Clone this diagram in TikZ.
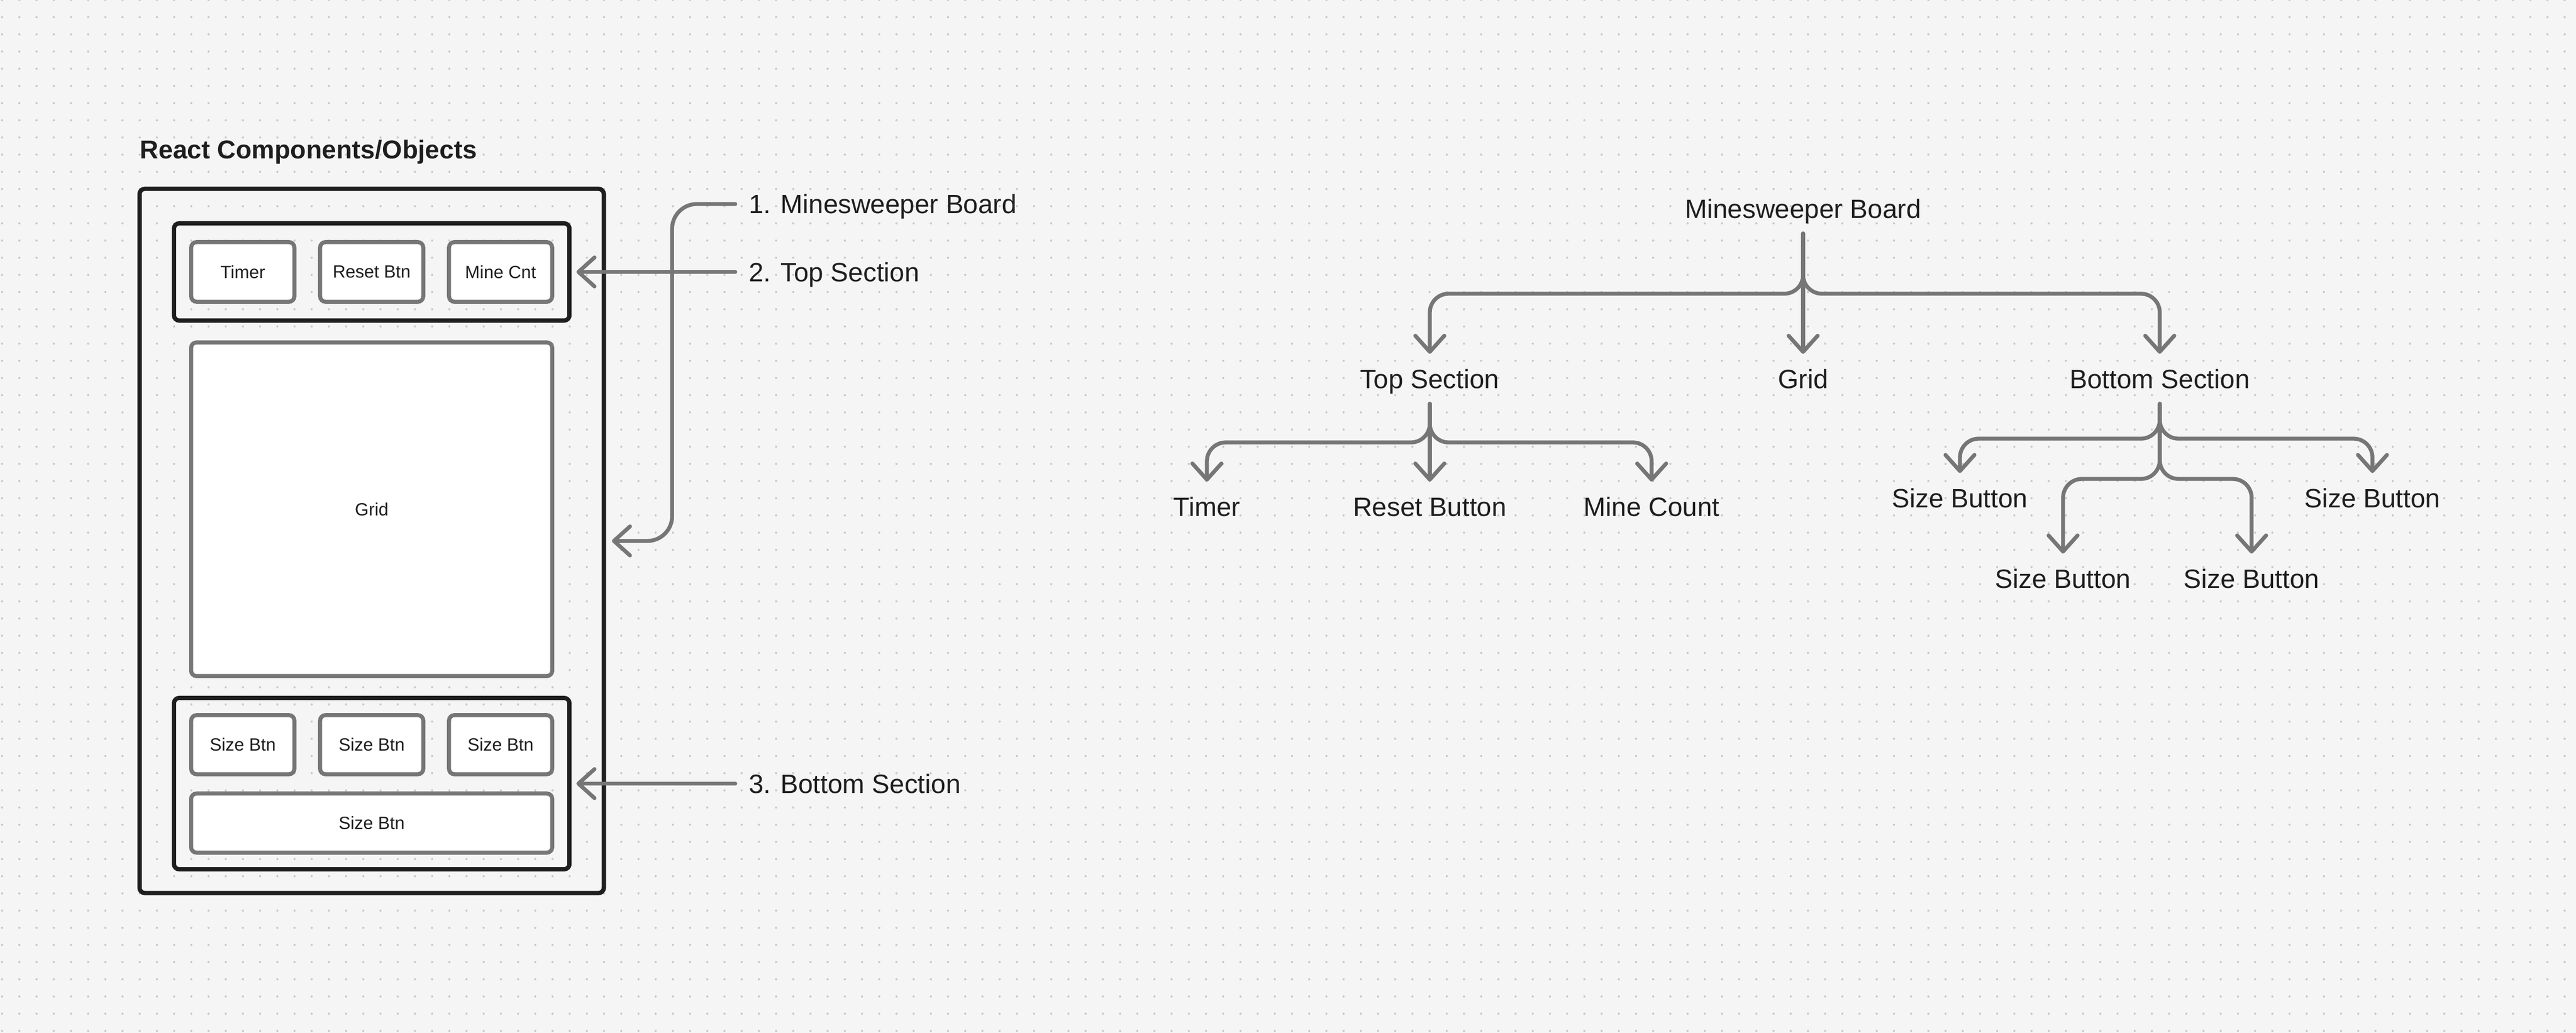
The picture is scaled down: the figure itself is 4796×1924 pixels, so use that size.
\documentclass[tikz,border=0pt]{standalone}
\usepackage{fontspec}
\setmainfont{Liberation Sans}
\usetikzlibrary{arrows.meta}
\definecolor{bg}{HTML}{F5F5F5}
\definecolor{dotc}{HTML}{C8C8C8}
\definecolor{ink}{HTML}{1E1E1E}
\definecolor{lgray}{HTML}{767676}
\tikzset{
  blackbox/.style={draw=ink, line width=0.08cm, rounded corners=0.1cm, inner sep=0, outer sep=0},
  graybox/.style={draw=lgray, fill=white, line width=0.075cm, rounded corners=0.1cm, inner sep=0, outer sep=0,
    text=ink, font=\fontsize{9.39pt}{11pt}\selectfont},
  lab/.style={text=ink, font=\fontsize{14.05pt}{16pt}\selectfont, inner xsep=0, inner ysep=0.29cm,
    text height=0.35cm, text depth=0cm, outer sep=0},
  ann/.style={lab, inner xsep=0.25cm, inner ysep=0},
  conn/.style={draw=lgray, line width=0.073cm, line cap=round, rounded corners=0.35cm,
    -{Straight Barb[length=0.3cm, width=0.54cm, round]}},
}
\begin{document}
\begin{tikzpicture}[x=0.01cm, y=-0.01cm]
\fill[bg] (0,0) rectangle (4796,1924);
\useasboundingbox (0,0) rectangle (4796,1924);
\foreach \r in {0,...,60}
  \draw[dotc, line width=0.04cm, line cap=round, dash pattern=on 0pt off 0.32cm] (4,\r*32) -- (4790,\r*32);

% title
\node[anchor=base west, inner sep=0, text=ink, font=\bfseries\fontsize{13.66pt}{16pt}\selectfont] (title) at (260,295) {React Components/Objects};

% left mock-up
\node[blackbox, minimum width=8.64cm, minimum height=13.11cm] (outer) at (692,1007.5) {};
\node[blackbox, minimum width=7.36cm, minimum height=1.81cm] (topsec) at (692,506.5) {};
\node[graybox, minimum width=1.92cm, minimum height=1.11cm] (timer) at (452,506.5) {Timer};
\node[graybox, minimum width=1.92cm, minimum height=1.11cm] (resetbtn) at (692,506.5) {Reset Btn};
\node[graybox, minimum width=1.92cm, minimum height=1.11cm] (minecnt) at (932,506.5) {Mine Cnt};
\node[graybox, minimum width=6.72cm, minimum height=6.21cm] (grid) at (692,948.5) {Grid};
\node[blackbox, minimum width=7.36cm, minimum height=3.19cm] (botsec) at (692,1459.5) {};
\node[graybox, minimum width=1.92cm, minimum height=1.10cm] (sz1) at (452,1387) {Size Btn};
\node[graybox, minimum width=1.92cm, minimum height=1.10cm] (sz2) at (692,1387) {Size Btn};
\node[graybox, minimum width=1.92cm, minimum height=1.10cm] (sz3) at (932,1387) {Size Btn};
\node[graybox, minimum width=6.72cm, minimum height=1.10cm] (sz4) at (692,1533) {Size Btn};

% annotations
\node[ann, anchor=base west] (l1) at (1369,397.5) {1. Minesweeper Board};
\node[ann, anchor=base west] (l2) at (1369,524) {2. Top Section};
\node[ann, anchor=base west] (l3) at (1369,1477) {3. Bottom Section};
\draw[conn, rounded corners=0.46cm] (l1.west) -| ([xshift=1.27cm]outer.east) -- ([xshift=0.15cm]outer.east);
\draw[conn] (l2.west) -- ([xshift=0.13cm]topsec.east |- l2.west);
\draw[conn] (l3.west) -- ([xshift=0.13cm]botsec.east |- l3.west);

% tree
\node[lab, anchor=base] (mb) at (3357,406) {Minesweeper Board};
\node[lab, anchor=base] (ts) at (2662,723) {Top Section};
\node[lab, anchor=base] (gr) at (3357,723) {Grid};
\node[lab, anchor=base] (bs) at (4021,723) {Bottom Section};
\node[lab, anchor=base] (ti) at (2247,961) {Timer};
\node[lab, anchor=base] (rb) at (2662,961) {Reset Button};
\node[lab, anchor=base] (mc) at (3075,961) {Mine Count};
\node[lab, anchor=base] (sb1) at (3649,945) {Size Button};
\node[lab, anchor=base] (sb4) at (4417,945) {Size Button};
\node[lab, anchor=base] (sb2) at (3841,1095) {Size Button};
\node[lab, anchor=base] (sb3) at (4192,1095) {Size Button};

\draw[conn] (mb.south) -- ++(0,112) -| (ts.north);
\draw[conn] (mb.south) -- (gr.north);
\draw[conn] (mb.south) -- ++(0,112) -| (bs.north);
\draw[conn] (ts.south) -- ++(0,72) -| (ti.north);
\draw[conn] (ts.south) -- (rb.north);
\draw[conn] (ts.south) -- ++(0,72) -| (mc.north);
\draw[conn] (bs.south) -- ++(0,65) -| (sb1.north);
\draw[conn] (bs.south) -- ++(0,65) -| (sb4.north);
\draw[conn] (bs.south) -- ++(0,140) -| (sb2.north);
\draw[conn] (bs.south) -- ++(0,140) -| (sb3.north);
\end{tikzpicture}
\end{document}
